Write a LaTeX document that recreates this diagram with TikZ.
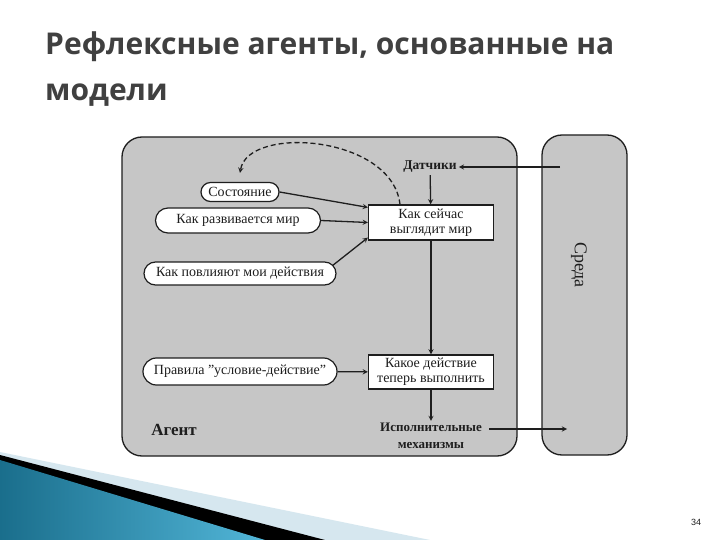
\documentclass[tikz,border=0pt]{standalone}
\usepackage{fontspec}
\setmainfont{Liberation Serif}
\newfontfamily\headfont{Open Sans}
\newfontfamily\numfont{Liberation Sans}
\usetikzlibrary{shapes.misc, arrows}
\definecolor{panelgray}{HTML}{C6C6C6}
\definecolor{inkgray}{HTML}{1E1E1E}
\definecolor{headgray}{HTML}{404040}
\definecolor{teal1}{HTML}{1A6E8C}
\definecolor{teal2}{HTML}{52B6D8}
\definecolor{paleblue}{HTML}{D6E7EF}
\tikzstyle{panel}=[draw=inkgray,line width=1.3pt,fill=panelgray,rounded corners=20pt]
\tikzstyle{memo}=[shape=rounded rectangle,draw=inkgray,line width=1.2pt,fill=white,inner sep=1pt,font=\fontsize{14}{15}\selectfont]
\tikzstyle{stage}=[shape=rectangle,draw=inkgray,line width=1.2pt,fill=white,align=center,minimum width=125pt,minimum height=35pt,inner sep=1pt,font=\fontsize{14}{15}\selectfont]
\tikzstyle{plain}=[align=center,inner sep=2pt,font=\fontsize{13.5}{15}\selectfont\bfseries]
\tikzstyle{arrow} = [line width=1.3pt,inkgray,->,>=stealth]

\begin{document}
\begin{tikzpicture}[x=1pt,y=-1pt,text=inkgray]
\useasboundingbox (0,0) rectangle (720,540);
\fill[white] (0,0) rectangle (720,540);
% heading
\node[anchor=base west,inner sep=0,text=headgray,font=\fontsize{30}{32}\headfont\bfseries] (titleA) at (45,55) {Рефлексные агенты, основанные на};
\node[anchor=base west,inner sep=0,text=headgray,font=\fontsize{30}{32}\headfont\bfseries] (titleB) at (45,101) {модели};

% corner decoration
\fill[paleblue] (0,452)--(430,540)--(0,540)--cycle;
\fill[black] (0,455)--(325,540)--(0,540)--cycle;
\shade[left color=teal1,right color=teal2] (0,460)--(265,540)--(0,540)--cycle;
\node[inner sep=0,font=\fontsize{9}{10}\numfont] (pagenum) at (696,522) {34};

% agent and environment
\draw[panel] (122,137) rectangle (517,456);
\draw[panel] (542,135) rectangle (627,455);
\node[rotate=-90,font=\fontsize{18}{19}\selectfont] (env) at (579,265) {Среда};
\node[font=\fontsize{17}{18}\selectfont\bfseries] (agent) at (174,430) {Агент};

\node[plain] (sensors) at (430,167) {Датчики};
\node[stage] (now) at (431,222.5) {Как сейчас\\выглядит мир};
\node[stage,minimum height=34pt] (action) at (431,372) {Какое действие\\теперь выполнить};
\node[plain,font=\fontsize{13}{17}\selectfont\bfseries] (effectors) at (431,436) {Исполнительные\\механизмы};

\node[memo,minimum width=80pt,minimum height=19pt] (state) at (240,192) {Состояние};
\node[memo,minimum width=167pt,minimum height=25pt] (evolve) at (238,220.5) {Как развивается мир};
\node[memo,minimum width=194pt,minimum height=23pt] (effects) at (240,273.5) {Как повлияют мои действия};
\node[memo,minimum width=196pt,minimum height=27pt] (rules) at (240,371.5) {Правила "условие-действие"};

\coordinate (envin) at (560,167);
\coordinate (envout) at (567,429);

\draw[arrow] (envin) -- (sensors);
\draw[arrow] (sensors) -- (now);
\draw[arrow] (state.east) -- ([yshift=-3pt]now.north west);
\draw[arrow] (evolve.east) -- (now.west);
\draw[arrow] ([xshift=-4pt,yshift=8pt]effects.east) -- ([yshift=3pt]now.south west);
\draw[arrow,dashed,dash pattern=on 5pt off 3pt] ([xshift=-31pt]now.north) .. controls (392,135) and (248,125) .. ([yshift=9pt]state.north);
\draw[arrow] (now) -- (action);
\draw[arrow] (rules) -- (action);
\draw[arrow] (action) -- (effectors);
\draw[arrow] ([xshift=5pt]effectors.east |- envout) -- (envout);
\end{tikzpicture}
\end{document}
